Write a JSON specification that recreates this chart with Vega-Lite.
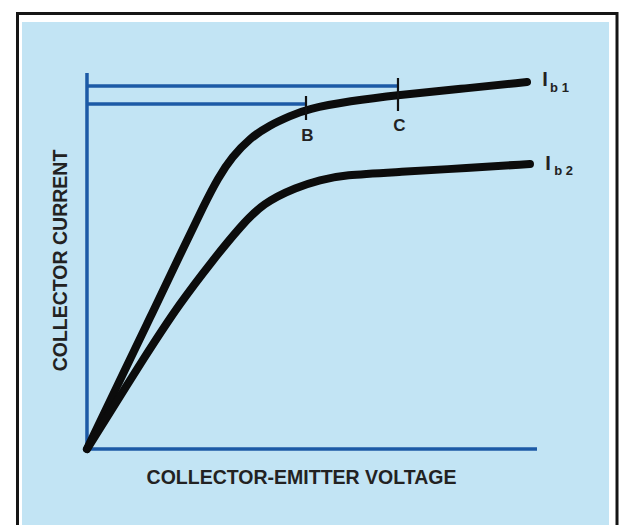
{
  "$schema": "https://vega.github.io/schema/vega-lite/v6.json",
  "autosize": {"type": "none"},
  "width": 587,
  "height": 503,
  "padding": {"left": 22, "top": 22, "right": 12, "bottom": 0},
  "background": "#ffffff",
  "config": {"view": {"fill": "#c2e4f4", "stroke": null}, "font": "Liberation Sans"},
  "datasets": {
    "frame": [{"v": -1.544, "v2": 11.778, "i": 11.582, "i2": -2.3}],
    "curves": [
      {"series": "Ib1", "v": 0, "i": 0},
      {"series": "Ib1", "v": 0.733, "i": 1.835},
      {"series": "Ib1", "v": 1.4, "i": 3.484},
      {"series": "Ib1", "v": 2.067, "i": 5.16},
      {"series": "Ib1", "v": 2.622, "i": 6.543},
      {"series": "Ib1", "v": 2.911, "i": 7.207},
      {"series": "Ib1", "v": 3.222, "i": 7.766},
      {"series": "Ib1", "v": 3.622, "i": 8.271},
      {"series": "Ib1", "v": 4.067, "i": 8.617},
      {"series": "Ib1", "v": 4.511, "i": 8.856},
      {"series": "Ib1", "v": 4.889, "i": 9.043},
      {"series": "Ib1", "v": 5.844, "i": 9.255},
      {"series": "Ib1", "v": 6.911, "i": 9.415},
      {"series": "Ib1", "v": 8.289, "i": 9.574},
      {"series": "Ib1", "v": 9.778, "i": 9.761},
      {"series": "Ib2", "v": 0, "i": 0},
      {"series": "Ib2", "v": 1.333, "i": 2.553},
      {"series": "Ib2", "v": 2.067, "i": 3.883},
      {"series": "Ib2", "v": 2.8, "i": 5.027},
      {"series": "Ib2", "v": 3.4, "i": 5.904},
      {"series": "Ib2", "v": 3.911, "i": 6.543},
      {"series": "Ib2", "v": 4.667, "i": 6.968},
      {"series": "Ib2", "v": 5.178, "i": 7.154},
      {"series": "Ib2", "v": 5.689, "i": 7.287},
      {"series": "Ib2", "v": 6.956, "i": 7.367},
      {"series": "Ib2", "v": 8.444, "i": 7.473},
      {"series": "Ib2", "v": 9.844, "i": 7.58}
    ],
    "axes": [
      {"axis": "voltage", "v": 0, "i": 0, "v2": 10, "i2": 0},
      {"axis": "current", "v": 0, "i": 0, "v2": 0, "i2": 10}
    ],
    "guides": [
      {"point": "C", "v": 0, "i": 9.654, "v2": 6.911, "i2": 9.654},
      {"point": "B", "v": 0, "i": 9.176, "v2": 4.867, "i2": 9.176}
    ],
    "ticks": [
      {"point": "B", "v": 4.867, "i": 9.388, "v2": 4.867, "i2": 8.75},
      {"point": "C", "v": 6.911, "i": 9.867, "v2": 6.911, "i2": 8.989}
    ],
    "points": [
      {"label": "B", "v": 4.9, "i": 8.324},
      {"label": "C", "v": 6.944, "i": 8.577}
    ],
    "seriesMain": [
      {"label": "I", "v": 10.178, "i": 9.814},
      {"label": "I", "v": 10.244, "i": 7.58}
    ],
    "seriesSub": [
      {"label": "b 1", "v": 10.5, "i": 9.6},
      {"label": "b 2", "v": 10.59, "i": 7.39}
    ],
    "xtitle": [{"label": "COLLECTOR-EMITTER VOLTAGE", "v": 4.767, "i": -0.771}],
    "ytitle": [{"label": "COLLECTOR CURRENT", "v": -0.578, "i": 5.013}]
  },
  "encoding": {
    "x": {"field": "v", "type": "quantitative", "scale": {"domain": [-1.444, 11.6], "nice": false, "zero": false}, "axis": null},
    "y": {"field": "i", "type": "quantitative", "scale": {"domain": [-2.021, 11.356], "nice": false, "zero": false}, "axis": null}
  },
  "layer": [
    {
      "data": {"name": "frame"},
      "mark": {"type": "rect", "fill": "transparent", "stroke": "#151515", "strokeWidth": 3, "clip": false},
      "encoding": {"x2": {"field": "v2"}, "y2": {"field": "i2"}}
    },
    {
      "data": {"name": "axes"},
      "mark": {"type": "rule", "color": "#1c5aa6", "strokeWidth": 3.5},
      "encoding": {"x2": {"field": "v2"}, "y2": {"field": "i2"}}
    },
    {
      "data": {"name": "guides"},
      "mark": {"type": "rule", "color": "#1c5aa6", "strokeWidth": 3.5},
      "encoding": {"x2": {"field": "v2"}, "y2": {"field": "i2"}}
    },
    {
      "data": {"name": "curves"},
      "mark": {"type": "line", "color": "#0c0c0c", "strokeWidth": 8, "strokeCap": "round", "strokeJoin": "round", "interpolate": "basis"},
      "encoding": {"detail": {"field": "series"}}
    },
    {
      "data": {"name": "ticks"},
      "mark": {"type": "rule", "color": "#111111", "strokeWidth": 2.2},
      "encoding": {"x2": {"field": "v2"}, "y2": {"field": "i2"}}
    },
    {
      "data": {"name": "points"},
      "mark": {"type": "text", "fontSize": 17, "fontWeight": "bold", "color": "#222222", "baseline": "middle", "align": "center"},
      "encoding": {"text": {"field": "label"}}
    },
    {
      "data": {"name": "seriesMain"},
      "mark": {"type": "text", "fontSize": 20, "fontWeight": "bold", "color": "#222222", "baseline": "middle", "align": "center"},
      "encoding": {"text": {"field": "label"}}
    },
    {
      "data": {"name": "seriesSub"},
      "mark": {"type": "text", "fontSize": 13, "fontWeight": "bold", "color": "#222222", "baseline": "middle", "align": "center"},
      "encoding": {"text": {"field": "label"}}
    },
    {
      "data": {"name": "xtitle"},
      "mark": {"type": "text", "fontSize": 19.5, "fontWeight": "bold", "color": "#222222", "baseline": "middle", "align": "center"},
      "encoding": {"text": {"field": "label"}}
    },
    {
      "data": {"name": "ytitle"},
      "mark": {"type": "text", "fontSize": 19.5, "fontWeight": "bold", "color": "#222222", "baseline": "middle", "align": "center", "angle": 270},
      "encoding": {"text": {"field": "label"}}
    }
  ]
}
